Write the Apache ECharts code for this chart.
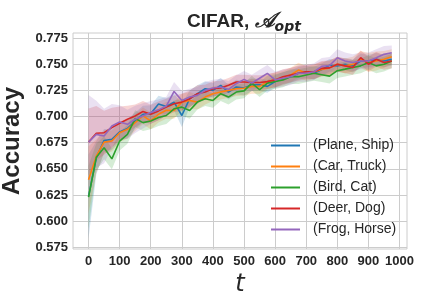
<!DOCTYPE html>
<html>
<head>
<meta charset="utf-8">
<script src="https://cdn.jsdelivr.net/npm/echarts@6/dist/echarts.min.js"></script>
<style>
html,body{margin:0;padding:0;background:#fff;}
#chart{width:421px;height:301px;}
</style>
</head>
<body>
<div id="chart"></div>
<script>
// ---- data ----
var steps = [0,25,50,75,100,125,150,175,200,225,250,275,300,325,350,375,400,425,450,475,500,525,550,575,600,625,650,675,700,725,750,775,800,825,850,875,900,925,950,975];
var seriesNames = ['(Plane, Ship)', '(Car, Truck)', '(Bird, Cat)', '(Deer, Dog)', '(Frog, Horse)'];
var planeShip = [0.6237,0.6606,0.6772,0.6782,0.6853,0.6885,0.6958,0.7022,0.7029,0.7119,0.7096,0.7138,0.7010,0.7170,0.7218,0.7266,0.7250,0.7298,0.7234,0.7282,0.7272,0.7303,0.7303,0.7288,0.7334,0.7366,0.7381,0.7413,0.7428,0.7413,0.7450,0.7490,0.7484,0.7500,0.7484,0.7531,0.7531,0.7547,0.7531,0.7547];
var carTruck = [0.6397,0.6622,0.6756,0.6766,0.6846,0.6878,0.6942,0.7006,0.6958,0.7022,0.7060,0.7058,0.7138,0.7154,0.7138,0.7186,0.7218,0.7234,0.7250,0.7266,0.7270,0.7288,0.7288,0.7334,0.7350,0.7366,0.7397,0.7444,0.7413,0.7428,0.7450,0.7465,0.7500,0.7484,0.7500,0.7547,0.7516,0.7531,0.7547,0.7572];
var birdCat = [0.6231,0.6612,0.6702,0.6596,0.6766,0.6830,0.6981,0.6942,0.6958,0.6990,0.7010,0.7074,0.7090,0.7058,0.7138,0.7170,0.7154,0.7218,0.7186,0.7234,0.7245,0.7319,0.7256,0.7319,0.7334,0.7350,0.7381,0.7381,0.7397,0.7413,0.7400,0.7386,0.7438,0.7453,0.7469,0.7484,0.7516,0.7484,0.7500,0.7531];
var deerDog = [0.6756,0.6840,0.6846,0.6894,0.6936,0.6974,0.7006,0.7048,0.7022,0.7054,0.7090,0.7122,0.7138,0.7170,0.7218,0.7234,0.7266,0.7272,0.7298,0.7330,0.7330,0.7325,0.7325,0.7334,0.7350,0.7381,0.7397,0.7413,0.7428,0.7428,0.7460,0.7465,0.7500,0.7484,0.7469,0.7562,0.7500,0.7547,0.7516,0.7531];
var frogHorse = [0.6756,0.6830,0.6814,0.6910,0.6949,0.6926,0.6974,0.7006,0.7038,0.7064,0.7100,0.7240,0.7154,0.7186,0.7202,0.7250,0.7272,0.7282,0.7260,0.7314,0.7355,0.7319,0.7366,0.7413,0.7350,0.7366,0.7381,0.7413,0.7413,0.7428,0.7480,0.7488,0.7562,0.7531,0.7516,0.7531,0.7531,0.7562,0.7594,0.7609];
// half-widths of the shaded bands
var planeShipSpread = [0.040,0.016,0.011,0.010,0.009,0.009,0.008,0.008,0.008,0.008,0.008,0.008,0.011,0.008,0.008,0.007,0.007,0.007,0.007,0.007,0.007,0.006,0.006,0.006,0.006,0.006,0.006,0.006,0.006,0.006,0.006,0.006,0.006,0.006,0.006,0.007,0.006,0.006,0.006,0.006];
var carTruckSpread = [0.032,0.016,0.011,0.010,0.009,0.009,0.008,0.008,0.008,0.008,0.008,0.008,0.008,0.008,0.007,0.007,0.007,0.007,0.007,0.007,0.007,0.007,0.007,0.007,0.007,0.007,0.007,0.007,0.007,0.007,0.007,0.007,0.007,0.007,0.007,0.008,0.009,0.009,0.008,0.007];
var birdCatSpread = [0.030,0.013,0.011,0.010,0.009,0.009,0.008,0.008,0.008,0.008,0.008,0.008,0.008,0.008,0.007,0.007,0.007,0.007,0.007,0.007,0.007,0.007,0.007,0.007,0.007,0.007,0.007,0.007,0.007,0.007,0.007,0.007,0.007,0.007,0.007,0.007,0.007,0.007,0.007,0.007];
var deerDogSpread = [0.032,0.026,0.021,0.019,0.016,0.013,0.011,0.010,0.009,0.009,0.008,0.008,0.008,0.008,0.008,0.007,0.007,0.007,0.007,0.007,0.007,0.007,0.007,0.007,0.007,0.007,0.007,0.007,0.007,0.007,0.007,0.007,0.007,0.007,0.007,0.007,0.007,0.007,0.007,0.007];
var frogHorseSpread = [0.045,0.032,0.026,0.021,0.016,0.014,0.013,0.012,0.011,0.010,0.009,0.009,0.009,0.008,0.008,0.008,0.008,0.008,0.008,0.008,0.008,0.008,0.008,0.008,0.008,0.008,0.008,0.008,0.008,0.008,0.008,0.008,0.008,0.008,0.008,0.008,0.008,0.008,0.008,0.007];
var xTicks = [0,100,200,300,400,500,600,700,800,900,1000];
var yTicks = [0.575,0.600,0.625,0.650,0.675,0.700,0.725,0.750,0.775];

// ---- chart ----
var colors = ['#1f77b4','#ff7f0e','#2ca02c','#d62728','#9467bd'];
var means = [planeShip, carTruck, birdCat, deerDog, frogHorse];
var spreads = [planeShipSpread, carTruckSpread, birdCatSpread, deerDogSpread, frogHorseSpread];
var txt = '#262626';
var series = [];
means.forEach(function (m, i) {
  var s = spreads[i];
  var rows = steps.map(function (x, j) { return [x, m[j] - s[j], m[j] + s[j]]; });
  series.push({
    type: 'custom', silent: true, clip: true,
    encode: { x: 0, y: [1, 2] },
    data: rows,
    renderItem: function (params, api) {
      if (params.dataIndex !== 0) return null;
      var pts = [];
      rows.forEach(function (r) { pts.push(api.coord([r[0], r[2]])); });
      for (var k = rows.length - 1; k >= 0; k--) pts.push(api.coord([rows[k][0], rows[k][1]]));
      return { type: 'polygon', shape: { points: pts }, style: { fill: colors[i], opacity: 0.2 } };
    }
  });
});
means.forEach(function (m, i) {
  series.push({
    name: seriesNames[i], type: 'line', symbol: 'none',
    lineStyle: { color: colors[i], width: 1.6 },
    itemStyle: { color: colors[i] },
    data: steps.map(function (x, j) { return [x, m[j]]; })
  });
});

var chart = echarts.init(document.getElementById('chart'), null, { renderer: 'canvas' });
chart.setOption({
  animation: false,
  backgroundColor: '#ffffff',
  title: {
    text: '{b|CIFAR, }{a|𝒜}{s|opt}',
    left: 239, textAlign: 'center', top: 5,
    textStyle: {
      rich: {
        b: { fontFamily: 'Liberation Sans', fontWeight: 'bold', fontSize: 19, color: txt, lineHeight: 24 },
        a: { fontFamily: 'DejaVu Sans', fontStyle: 'italic', fontSize: 21, color: txt, lineHeight: 24 },
        s: { fontFamily: 'DejaVu Sans', fontStyle: 'italic', fontSize: 14, color: txt, lineHeight: 14, verticalAlign: 'bottom' }
      }
    }
  },
  legend: {
    data: seriesNames, orient: 'vertical', left: 271, top: 135,
    icon: 'rect', itemWidth: 29, itemHeight: 2, itemGap: 0, padding: 0,
    textStyle: { fontFamily: 'Liberation Sans', fontSize: 14, color: txt, lineHeight: 21, padding: [0,0,0,8] }
  },
  grid: { left: 73, right: 14, top: 33, bottom: 52, show: true, borderColor: '#cccccc', borderWidth: 1,
    backgroundColor: 'transparent', containLabel: false, outerBoundsMode: 'none' },
  xAxis: {
    type: 'value', min: -50, max: 1024,
    name: 't', nameLocation: 'middle', nameGap: 17,
    nameTextStyle: { fontFamily: 'DejaVu Sans', fontStyle: 'italic', fontSize: 24, color: txt },
    axisLine: { show: false },
    axisTick: { show: false, customValues: xTicks },
    axisLabel: { customValues: xTicks, margin: 6, fontFamily: 'Liberation Sans', fontWeight: 'bold', fontSize: 13, color: txt,
      formatter: function (v) { return String(v); } },
    splitLine: { show: true, lineStyle: { color: '#cccccc', width: 1 } }
  },
  yAxis: {
    type: 'value', min: 0.5735, max: 0.7798,
    name: 'Accuracy', nameLocation: 'middle', nameGap: 48,
    nameTextStyle: { fontFamily: 'Liberation Sans', fontWeight: 'bold', fontSize: 24, color: txt },
    axisLine: { show: false },
    axisTick: { show: false, customValues: yTicks },
    axisLabel: { customValues: yTicks, margin: 5, fontFamily: 'Liberation Sans', fontWeight: 'bold', fontSize: 13, color: txt,
      formatter: function (v) { return v.toFixed(3); } },
    splitLine: { show: true, lineStyle: { color: '#cccccc', width: 1 } }
  },
  series: series
});
</script>
</body>
</html>
